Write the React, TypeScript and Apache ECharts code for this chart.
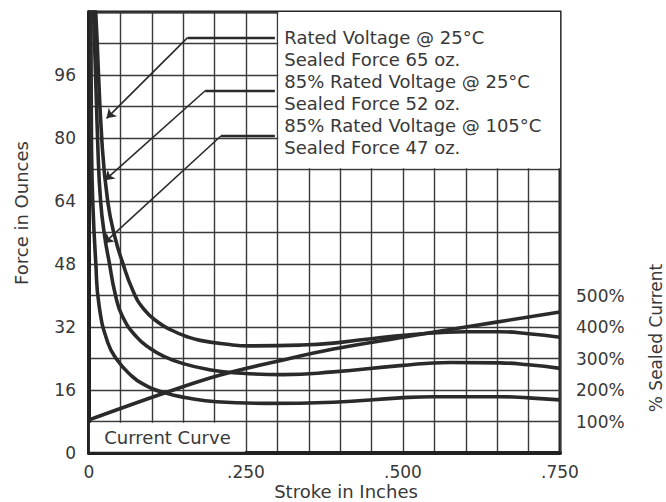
import React, { useEffect, useRef } from "react";
import * as echarts from "echarts";

// ---- data (stroke in inches, force in ounces) ----
const strokeTicks = [0, 0.25, 0.5, 0.75];
const forceTicks = [0, 16, 32, 48, 64, 80, 96];
const currentTicks = [100, 200, 300, 400, 500];

const ratedForce: [number, number][] = [
  [0.008, 118], [0.011, 111], [0.021, 78], [0.03, 63.7], [0.041, 55], [0.053, 48.6],
  [0.07, 41.2], [0.088, 36.4], [0.11, 33.2], [0.13, 31.3], [0.155, 29.6], [0.177, 28.6],
  [0.22, 27.6], [0.256, 27.2], [0.336, 27.4], [0.389, 27.9], [0.442, 28.9], [0.511, 30.0],
  [0.6, 30.8], [0.654, 30.8], [0.7, 30.3], [0.75, 29.4],
];
const rated85Force: [number, number][] = [
  [0.005, 118], [0.0075, 111], [0.014, 78], [0.0186, 63.7], [0.025, 55], [0.032, 48.6],
  [0.042, 40.2], [0.053, 34.8], [0.075, 29.6], [0.097, 26.6], [0.12, 24.5], [0.15, 22.7],
  [0.19, 21.2], [0.23, 20.4], [0.309, 19.9], [0.389, 20.6], [0.495, 22.2], [0.575, 23.0],
  [0.654, 22.9], [0.7, 22.4], [0.75, 21.5],
];
const rated85HotForce: [number, number][] = [
  [0.002, 118], [0.003, 111], [0.004, 78], [0.006, 63.7], [0.0107, 48.6], [0.016, 37.5],
  [0.03, 28], [0.045, 23.6], [0.065, 20.0], [0.085, 17.6], [0.118, 15.4], [0.16, 13.9],
  [0.203, 13.0], [0.283, 12.6], [0.389, 12.9], [0.495, 14.0], [0.548, 14.3], [0.654, 14.3],
  [0.7, 14.0], [0.75, 13.5],
];
// current curve drawn on the force scale (8 oz grid step = 100 % sealed current)
const currentCurve: [number, number][] = [
  [0, 8.4], [0.118, 15.1], [0.209, 19.8], [0.3, 23.3], [0.389, 26.4],
  [0.5, 29.4], [0.6, 32.0], [0.75, 35.8],
];

const legendLines = [
  "Rated Voltage @ 25°C",
  "Sealed Force 65 oz.",
  "85% Rated Voltage @ 25°C",
  "Sealed Force 52 oz.",
  "85% Rated Voltage @ 105°C",
  "Sealed Force 47 oz.",
];

// leader lines: [box edge, elbow, arrow tip]
const leaderRated: [number, number][] = [[0.296, 105.5], [0.157, 105.5], [0.028, 85.0]];
const leader85: [number, number][] = [[0.296, 92.0], [0.185, 92.0], [0.0255, 69.3]];
const leader85Hot: [number, number][] = [[0.296, 80.5], [0.21, 80.5], [0.024, 53.3]];
const leaders = [leaderRated, leader85, leader85Hot];

const legendBox: [number, number][] = [[0.3015, 72.3], [0.75, 112]];
const currentBox: [number, number][] = [[0.0015, 0.3], [0.2485, 7.7]];

const INK = "#2a2a2a";
const TEXT = "#383838";
const FONT = "DejaVu Sans";

function near(list: number[], v: number) {
  return list.find((t) => Math.abs(t - v) < 1e-6);
}

export default function App() {
  const ref = useRef<HTMLDivElement>(null);
  useEffect(() => {
    if (!ref.current) return;
    const chart = echarts.init(ref.current, null, { renderer: "svg" });
    const curveSeries = (name: string, data: [number, number][]) => ({
      name,
      type: "line",
      data,
      showSymbol: false,
      smooth: 0.5,
      clip: true,
      lineStyle: { color: INK, width: 3.6 },
      z: 3,
    });
    chart.setOption({
      animation: false,
      backgroundColor: "#ffffff",
      textStyle: { fontFamily: FONT, color: TEXT },
      grid: {
        left: 89,
        right: 106,
        top: 12,
        bottom: 49,
        show: true,
        borderColor: "#222",
        borderWidth: 3,
        backgroundColor: "#ffffff",
      },
      xAxis: {
        type: "value",
        min: 0,
        max: 0.75,
        interval: 0.05,
        axisLine: { show: true, onZero: false, lineStyle: { color: "#222", width: 4 } },
        axisTick: { show: false },
        splitLine: { show: true, lineStyle: { color: "#3a3a3a", width: 1.4 } },
        axisLabel: {
          margin: 10,
          fontSize: 17,
          fontFamily: FONT,
          color: TEXT,
          formatter: (v: number) => {
            const t = near(strokeTicks, v);
            if (t === undefined) return "";
            return t === 0 ? "0" : t.toFixed(3).replace(/^0/, "");
          },
        },
      },
      yAxis: [
        {
          type: "value",
          min: 0,
          max: 112,
          interval: 8,
          axisLine: { show: true, onZero: false, lineStyle: { color: "#222", width: 4 } },
          axisTick: { show: false },
          splitLine: { show: true, lineStyle: { color: "#3a3a3a", width: 1.4 } },
          axisLabel: {
            margin: 13,
            fontSize: 17,
            fontFamily: FONT,
            color: TEXT,
            formatter: (v: number) => {
              const t = near(forceTicks, v);
              return t === undefined ? "" : String(t);
            },
          },
        },
        {
          type: "value",
          position: "right",
          min: 0,
          max: 1400,
          interval: 100,
          axisLine: { show: false },
          axisTick: { show: false },
          splitLine: { show: false },
          axisLabel: {
            margin: 16,
            fontSize: 17,
            fontFamily: FONT,
            color: TEXT,
            formatter: (v: number) => {
              const t = near(currentTicks, v);
              return t === undefined ? "" : `${t}%`;
            },
          },
        },
      ],
      series: [
        {
          ...curveSeries("Current Curve", currentCurve),
          smooth: 0.4,
          markArea: {
            silent: true,
            z: 2,
            itemStyle: { color: "#ffffff", borderWidth: 0 },
            data: [
              [
                {
                  name: legendLines.join("\n"),
                  coord: legendBox[0],
                  label: {
                    show: true,
                    position: "insideTopLeft",
                    offset: [1, 9],
                    fontSize: 18,
                    lineHeight: 22,
                    fontFamily: FONT,
                    color: TEXT,
                  },
                },
                { coord: legendBox[1] },
              ],
              [
                {
                  name: "Current Curve",
                  coord: currentBox[0],
                  label: {
                    show: true,
                    position: "inside",
                    fontSize: 18,
                    fontFamily: FONT,
                    color: TEXT,
                  },
                },
                { coord: currentBox[1] },
              ],
            ],
          },
        },
        curveSeries("Rated Voltage @ 25°C", ratedForce),
        curveSeries("85% Rated Voltage @ 25°C", rated85Force),
        curveSeries("85% Rated Voltage @ 105°C", rated85HotForce),
        {
          name: "leader-h",
          type: "lines",
          coordinateSystem: "cartesian2d",
          symbol: ["none", "none"],
          lineStyle: { color: INK, width: 2.4, opacity: 1 },
          data: leaders.map((l) => ({ coords: [l[0], l[1]] })),
          z: 4,
        },
        {
          name: "leader-d",
          type: "lines",
          coordinateSystem: "cartesian2d",
          symbol: ["none", "arrow"],
          symbolSize: 9,
          lineStyle: { color: INK, width: 1.6, opacity: 1 },
          data: leaders.map((l) => ({ coords: [l[1], l[2]] })),
          z: 4,
        },
      ],
      graphic: [
        {
          type: "text",
          x: 21,
          y: 213,
          rotation: Math.PI / 2,
          style: {
            text: "Force in Ounces",
            font: `18px "${FONT}"`,
            fill: TEXT,
            align: "center",
            verticalAlign: "middle",
          },
        },
        {
          type: "text",
          x: 346,
          y: 491,
          style: {
            text: "Stroke in Inches",
            font: `18px "${FONT}"`,
            fill: TEXT,
            align: "center",
            verticalAlign: "middle",
          },
        },
        {
          type: "text",
          x: 656,
          y: 338,
          rotation: Math.PI / 2,
          style: {
            text: "% Sealed Current",
            font: `17px "${FONT}"`,
            fill: TEXT,
            align: "center",
            verticalAlign: "middle",
          },
        },
      ],
    });
    return () => chart.dispose();
  }, []);
  return (
    <div
      ref={ref}
      style={{ position: "fixed", left: 0, top: 0, width: 666, height: 502, background: "#fff" }}
    />
  );
}
